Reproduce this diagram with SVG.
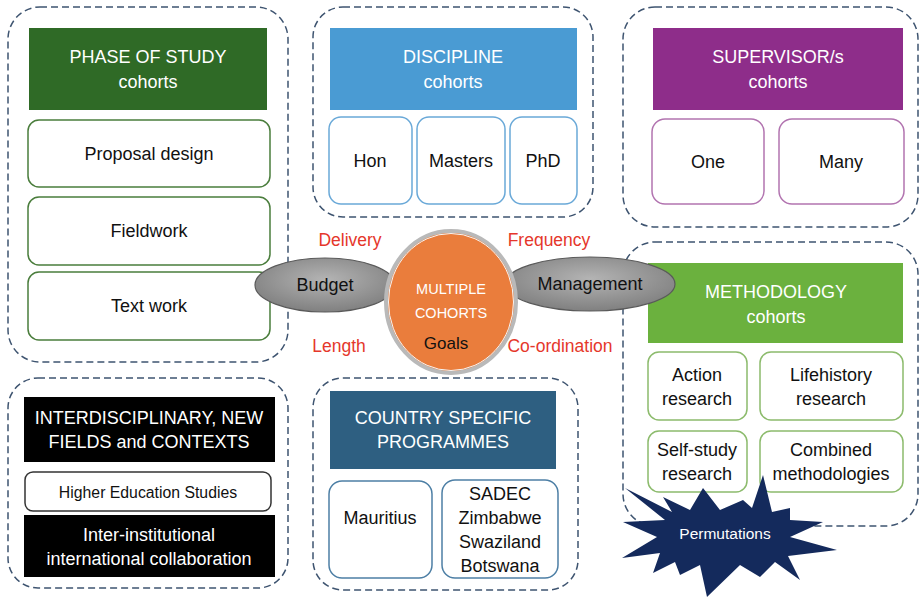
<svg xmlns="http://www.w3.org/2000/svg" width="924" height="598" viewBox="0 0 924 598">
<defs>
<radialGradient id="gray" cx="50%" cy="40%" r="60%">
<stop offset="0" stop-color="#b4b4b4"/><stop offset="1" stop-color="#808080"/>
</radialGradient>
</defs>
<style>
text{font-family:"Liberation Sans",Arial,sans-serif;text-anchor:middle;dominant-baseline:central}
.outer{fill:#fff;stroke:#3e5470;stroke-width:1.5;stroke-dasharray:7 4}
.hdr{fill:#fff;font-size:18px}
.item{fill:#fff;stroke-width:1.5}
.t{fill:#111;font-size:18px}
.red{fill:#e5372b;font-size:17.5px}
.ell{fill:url(#gray);stroke:#5a5a5a;stroke-width:1.2}
</style>
<rect width="924" height="598" fill="#fff"/>

<g id="phase">
<rect class="outer" x="8" y="7" width="280" height="355" rx="32"/>
<rect x="29" y="28" width="238" height="82" fill="#2f6a26"/>
<text class="hdr" x="148" y="57">PHASE OF STUDY</text>
<text class="hdr" x="148" y="82">cohorts</text>
<rect class="item" x="28" y="120" width="242" height="67" rx="11" stroke="#4a7d3c"/>
<text class="t" x="149" y="154">Proposal design</text>
<rect class="item" x="28" y="197" width="242" height="68" rx="11" stroke="#4a7d3c"/>
<text class="t" x="149" y="231">Fieldwork</text>
<rect class="item" x="28" y="272" width="242" height="68" rx="11" stroke="#4a7d3c"/>
<text class="t" x="149" y="306">Text work</text>
</g>

<g id="discipline">
<rect class="outer" x="313" y="7" width="280" height="210" rx="30"/>
<rect x="330" y="28" width="247" height="82" fill="#4a9bd3"/>
<text class="hdr" x="453" y="57">DISCIPLINE</text>
<text class="hdr" x="453" y="82">cohorts</text>
<rect class="item" x="329" y="117" width="83" height="87" rx="12" stroke="#6aa9d8"/>
<text class="t" x="370" y="161">Hon</text>
<rect class="item" x="417" y="117" width="88" height="87" rx="12" stroke="#6aa9d8"/>
<text class="t" x="461" y="161">Masters</text>
<rect class="item" x="510" y="117" width="67" height="87" rx="12" stroke="#6aa9d8"/>
<text class="t" x="543" y="161">PhD</text>
</g>

<g id="supervisor">
<rect class="outer" x="623" y="7" width="295" height="220" rx="32"/>
<rect x="653" y="28" width="250" height="82" fill="#8e2d8a"/>
<text class="hdr" x="778" y="57">SUPERVISOR/s</text>
<text class="hdr" x="778" y="82">cohorts</text>
<rect class="item" x="652" y="119" width="112" height="85" rx="13" stroke="#b274b0"/>
<text class="t" x="708" y="162">One</text>
<rect class="item" x="779" y="119" width="125" height="85" rx="13" stroke="#b274b0"/>
<text class="t" x="841" y="162">Many</text>
</g>

<g id="methodology">
<rect class="outer" x="623" y="242" width="295" height="284" rx="32"/>
<rect x="648" y="263" width="255" height="80" fill="#6bb13e"/>
<text class="hdr" x="776" y="292">METHODOLOGY</text>
<text class="hdr" x="776" y="317">cohorts</text>
<rect class="item" x="648" y="352" width="99" height="68" rx="11" stroke="#8cbb6c"/>
<text class="t" x="697" y="375">Action</text>
<text class="t" x="697" y="399">research</text>
<rect class="item" x="760" y="352" width="143" height="68" rx="11" stroke="#8cbb6c"/>
<text class="t" x="831" y="375">Lifehistory</text>
<text class="t" x="831" y="399">research</text>
<rect class="item" x="648" y="431" width="99" height="61" rx="11" stroke="#8cbb6c"/>
<text class="t" x="697" y="450">Self-study</text>
<text class="t" x="697" y="474">research</text>
<rect class="item" x="760" y="431" width="143" height="61" rx="11" stroke="#8cbb6c"/>
<text class="t" x="831" y="450">Combined</text>
<text class="t" x="831" y="474">methodologies</text>
</g>

<g id="interdisciplinary">
<rect class="outer" x="8" y="378" width="280" height="210" rx="30"/>
<rect x="24" y="397" width="251" height="65" fill="#000"/>
<text class="hdr" x="149" y="418">INTERDISCIPLINARY, NEW</text>
<text class="hdr" x="149" y="442">FIELDS and CONTEXTS</text>
<rect class="item" x="25" y="472" width="246" height="39" rx="8" stroke="#333"/>
<text x="148" y="492" fill="#111" font-size="15.8">Higher Education Studies</text>
<rect x="24" y="515" width="251" height="62" fill="#000"/>
<text class="hdr" x="149" y="535">Inter-institutional</text>
<text class="hdr" x="149" y="559">international collaboration</text>
</g>

<g id="country">
<rect class="outer" x="313" y="378" width="265" height="212" rx="30"/>
<rect x="330" y="391" width="226" height="78" fill="#2e5f81"/>
<text class="hdr" x="443" y="418">COUNTRY SPECIFIC</text>
<text class="hdr" x="443" y="442">PROGRAMMES</text>
<rect class="item" x="329" y="481" width="103" height="97" rx="13" stroke="#4d7fa5"/>
<text class="t" x="380" y="518">Mauritius</text>
<rect class="item" x="442" y="480" width="116" height="98" rx="13" stroke="#4d7fa5"/>
<text class="t" x="500" y="494">SADEC</text>
<text class="t" x="500" y="518">Zimbabwe</text>
<text class="t" x="500" y="542">Swaziland</text>
<text class="t" x="500" y="566">Botswana</text>
</g>

<g id="connectors">
<g id="budget">
<ellipse class="ell" cx="325" cy="285" rx="70" ry="27"/>
<text class="t" x="325" y="285">Budget</text>
</g>
<g id="management">
<ellipse class="ell" cx="590" cy="284" rx="85" ry="27"/>
<text class="t" x="590" y="284">Management</text>
</g>
</g>

<g id="center">
<ellipse cx="451" cy="302" rx="65" ry="71" fill="#ea7d3c" stroke="#b9b9b9" stroke-width="4"/>
<ellipse cx="451" cy="302" rx="62.5" ry="68.5" fill="none" stroke="#f4f4f4" stroke-width="1"/>
<text x="451" y="289" fill="#fff" font-size="14.5">MULTIPLE</text>
<text x="451" y="313" fill="#fff" font-size="14.5">COHORTS</text>
<text x="446" y="343" fill="#111" font-size="17">Goals</text>
</g>

<g id="labels">
<text class="red" x="350" y="240">Delivery</text>
<text class="red" x="549" y="240">Frequency</text>
<text class="red" x="339" y="346">Length</text>
<text class="red" x="560" y="346">Co-ordination</text>
</g>

<g id="permutations">
<polygon fill="#142a5c" points="703,488 720,510 743,500 752,508 763,475 772,512 790,508 790,520 823,522 790,537 837,550 788,556 800,580 775,562 760,577 740,565 707,597 700,565 680,575 675,562 653,573 660,553 622,558 657,537 623,522 665,520 625,488 672,512 663,497 690,510"/>
<text x="725" y="533" fill="#fff" font-size="15.5">Permutations</text>
</g>
</svg>
